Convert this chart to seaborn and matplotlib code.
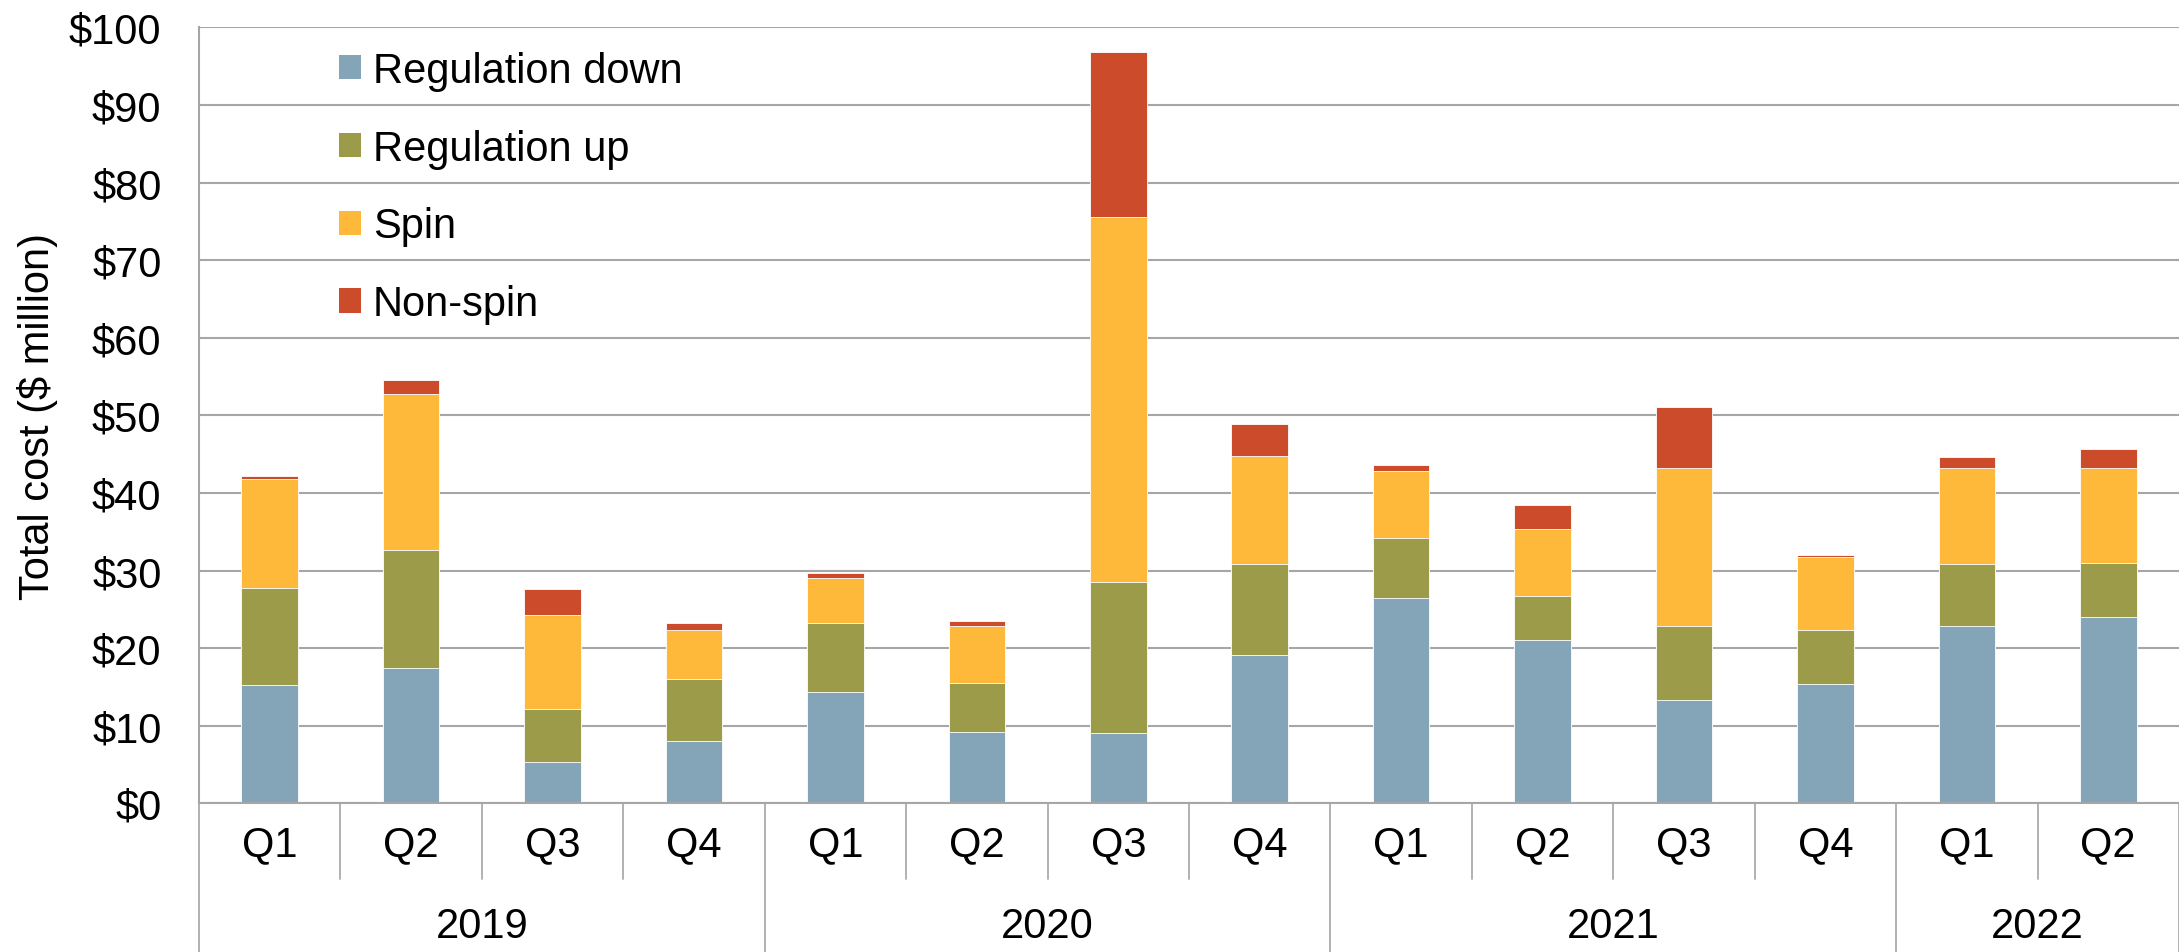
import matplotlib
matplotlib.use("Agg")
import matplotlib.pyplot as plt
from matplotlib.patches import Patch
from matplotlib.transforms import blended_transform_factory
import numpy as np
import pandas as pd
import seaborn as sns

# Quarterly ancillary service costs ($ million)
years = ["2019", "2019", "2019", "2019",
         "2020", "2020", "2020", "2020",
         "2021", "2021", "2021", "2021",
         "2022", "2022"]
quarters = ["Q1", "Q2", "Q3", "Q4",
            "Q1", "Q2", "Q3", "Q4",
            "Q1", "Q2", "Q3", "Q4",
            "Q1", "Q2"]
reg_down = [15.2, 17.4, 5.3, 8.0, 14.4, 9.2, 9.1, 19.1, 26.5, 21.1, 13.3, 15.4, 22.8, 24.0]
reg_up = [12.6, 15.2, 6.9, 8.0, 8.9, 6.3, 19.4, 11.7, 7.7, 5.6, 9.5, 6.9, 8.0, 7.0]
spin = [14.0, 20.2, 12.1, 6.3, 5.8, 7.3, 47.1, 13.9, 8.6, 8.7, 20.4, 9.4, 12.4, 12.2]
non_spin = [0.4, 1.8, 3.3, 0.9, 0.6, 0.7, 21.2, 4.2, 0.8, 3.0, 7.9, 0.3, 1.4, 2.4]

series_names = ["Regulation down", "Regulation up", "Spin", "Non-spin"]
series_colors = ["#84A5B8", "#9B9B4A", "#FEB93A", "#CB4B2B"]
y_ticks = list(range(0, 101, 10))

df = pd.DataFrame({
    "period": [f"{y} {q}" for y, q in zip(years, quarters)],
    "Regulation down": reg_down,
    "Regulation up": reg_up,
    "Spin": spin,
    "Non-spin": non_spin,
})
# cumulative tops for stacking
stack = df[series_names].cumsum(axis=1)
for name in series_names:
    df[name + "_top"] = stack[name]

sns.set_style("white")
plt.rcParams["font.family"] = ["Liberation Sans", "DejaVu Sans"]
plt.rcParams["font.size"] = 30
for key in ["text.color", "axes.labelcolor", "xtick.color", "ytick.color"]:
    plt.rcParams[key] = "black"

fig = plt.figure(figsize=(21.79, 9.53), dpi=100)
ax = fig.add_axes([0.0913, 0.156, 0.9087, 0.8143])

order = list(df["period"])
# draw tallest cumulative layer first so lower layers sit on top
for name, color in reversed(list(zip(series_names, series_colors))):
    sns.barplot(data=df, x="period", y=name + "_top", order=order, color=color,
                saturation=1, width=0.4, errorbar=None, ax=ax,
                edgecolor="white", linewidth=0.6)

ax.set_xlim(-0.5, len(order) - 0.5)
ax.set_ylim(0, 100)
ax.set_yticks(y_ticks)
ax.set_yticklabels([f"${v}" for v in y_ticks])
ax.tick_params(axis="y", length=0, pad=27, labelsize=30, labelcolor="black")
ax.tick_params(axis="x", length=0, labelbottom=False)
ax.set_xlabel("")
ax.set_ylabel("Total cost ($ million)", fontsize=30, color="black")
ax.yaxis.set_label_coords(-0.0712, 0.5)

ax.yaxis.grid(True, color="#A6A6A6", linewidth=1.5)
ax.set_axisbelow(True)
for side in ["top", "right"]:
    ax.spines[side].set_visible(False)
for side in ["left", "bottom"]:
    ax.spines[side].set_color("#A6A6A6")
    ax.spines[side].set_linewidth(1.5)

# two-level category axis: quarters above, years below
trans = blended_transform_factory(ax.transData, ax.transAxes)
n = len(order)
q_sep_bottom = -0.0976
fig_bottom = -0.1916
year_starts = [i for i in range(n) if i == 0 or years[i] != years[i - 1]]
for i in range(n + 1):
    xb = i - 0.5
    if i in year_starts or i == n:
        y0 = fig_bottom
    else:
        y0 = q_sep_bottom
    ax.plot([xb, xb], [0, y0], transform=trans, color="#ABABAB",
            linewidth=1.3, clip_on=False)
for i, q in enumerate(quarters):
    ax.text(i, -0.0524, q, transform=trans, ha="center", va="center",
            fontsize=30, color="black")
for k, start in enumerate(year_starts):
    end = year_starts[k + 1] if k + 1 < len(year_starts) else n
    ax.text((start + end - 1) / 2, -0.158, years[start], transform=trans,
            ha="center", va="center", fontsize=30, color="black")

handles = [Patch(facecolor=c, edgecolor="none") for c in series_colors]
leg = ax.legend(handles, series_names, loc="upper left", bbox_to_anchor=(0.0707, 0.970),
                frameon=False, fontsize=30, handlelength=0.52, handleheight=0.52,
                handletextpad=0.29, labelspacing=0.91, borderpad=0, borderaxespad=0)
for t in leg.get_texts():
    t.set_color("black")

fig.savefig("out.png", dpi=100)
